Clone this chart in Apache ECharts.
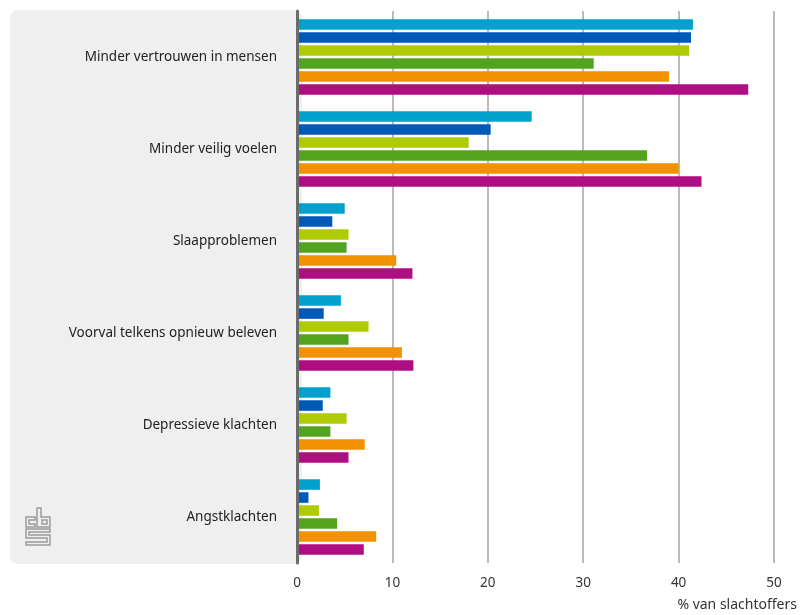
<!DOCTYPE html>
<html>
<head>
<meta charset="utf-8">
<script src="https://cdn.jsdelivr.net/npm/echarts@6/dist/echarts.min.js"></script>
<style>
  html, body { margin: 0; padding: 0; background: #ffffff; }
  #chart { width: 800px; height: 615px; }
</style>
</head>
<body>
<div id="chart"></div>
<script>
// Gevolgen van het voorval (% van slachtoffers)
const categories = [
  'Minder vertrouwen in mensen',
  'Minder veilig voelen',
  'Slaapproblemen',
  'Voorval telkens opnieuw beleven',
  'Depressieve klachten',
  'Angstklachten'
];

const groupA = [41.5, 24.6, 5.0, 4.6, 3.5, 2.4];
const groupB = [41.3, 20.3, 3.7, 2.8, 2.7, 1.2];
const groupC = [41.1, 18.0, 5.4, 7.5, 5.2, 2.3];
const groupD = [31.1, 36.7, 5.2, 5.4, 3.5, 4.2];
const groupE = [39.0, 40.0, 10.4, 11.0, 7.1, 8.3];
const groupF = [47.3, 42.4, 12.1, 12.2, 5.4, 7.0];

const xTicks = [0, 10, 20, 30, 40, 50];

const seriesData = [groupA, groupB, groupC, groupD, groupE, groupF];
const seriesNames = ['A', 'B', 'C', 'D', 'E', 'F'];
const colors = ['#00a1cd', '#0058b8', '#afcb05', '#53a31d', '#f39200', '#af0e80'];

const FONT = '"Noto Sans", "Open Sans", sans-serif';

const chart = echarts.init(document.getElementById('chart'), null, { renderer: 'canvas' });

chart.setOption({
  animation: false,
  backgroundColor: '#ffffff',
  grid: { left: 297, right: 26, top: 11, height: 552, containLabel: false },
  xAxis: {
    type: 'value',
    min: xTicks[0],
    max: xTicks[xTicks.length - 1],
    interval: xTicks[1] - xTicks[0],
    axisLine: { show: false },
    axisTick: { show: false },
    axisLabel: {
      margin: 13,
      fontFamily: FONT,
      fontSize: 13.5,
      color: '#333333'
    },
    splitLine: { show: true, lineStyle: { color: '#a3a3a3', width: 1.5 } }
  },
  yAxis: {
    type: 'category',
    inverse: true,
    z: 5,
    data: categories,
    axisLine: { show: true, lineStyle: { color: '#6b6b6b', width: 3 } },
    axisTick: { show: false },
    axisLabel: {
      margin: 20,
      fontFamily: FONT,
      fontSize: 13.5,
      color: '#222222'
    },
    splitLine: { show: false }
  },
  graphic: [
    {
      type: 'rect',
      z: -10,
      silent: true,
      shape: { x: 10, y: 10, width: 292, height: 554, r: 8 },
      style: { fill: '#efefef' }
    },
    {
      type: 'group',
      z: -5,
      silent: true,
      children: [
        { type: 'polygon', shape: { points: [[26,517],[35,517],[35,520],[29,520],[29,524],[35,524],[35,527],[26,527]] },
          style: { fill: 'none', stroke: '#9c9c9c', lineWidth: 1.5 } },
        { type: 'polygon', shape: { points: [[37,508],[41,508],[41,517],[50,517],[50,527],[37,527]] },
          style: { fill: 'none', stroke: '#9c9c9c', lineWidth: 1.5 } },
        { type: 'rect', shape: { x: 42, y: 520, width: 5, height: 4 },
          style: { fill: 'none', stroke: '#9c9c9c', lineWidth: 1.5 } },
        { type: 'polygon', shape: { points: [[26,529],[50,529],[50,532],[29,532],[29,535],[50,535],[50,545],[26,545],[26,542],[47,542],[47,538],[26,538]] },
          style: { fill: 'none', stroke: '#9c9c9c', lineWidth: 1.5 } }
      ]
    },
    {
      type: 'text',
      right: 3,
      top: 598,
      style: {
        text: '% van slachtoffers',
        fontFamily: FONT,
        fontSize: 14,
        fill: '#333333'
      }
    }
  ],
  series: seriesData.map((d, i) => ({
    type: 'bar',
    name: seriesNames[i],
    data: d,
    barCategoryGap: '18%',
    barGap: '23%',
    itemStyle: { color: colors[i] },
    silent: true
  }))
});
</script>
</body>
</html>
